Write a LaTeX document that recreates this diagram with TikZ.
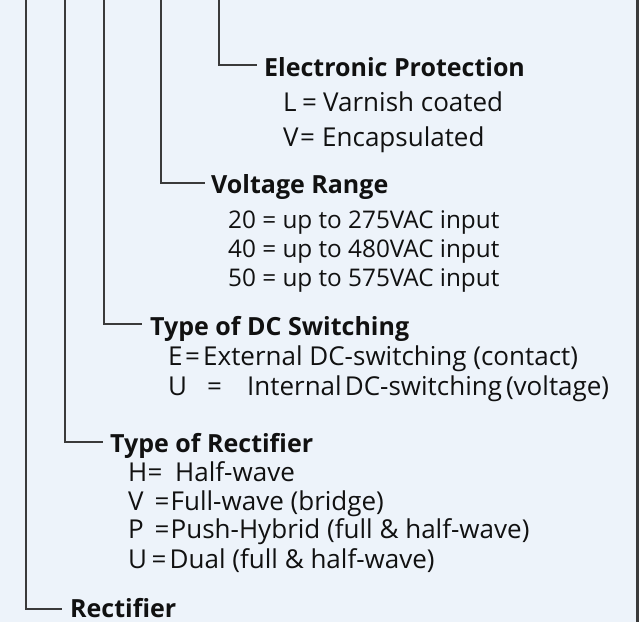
\documentclass[tikz,border=0pt]{standalone}
\usepackage{fontspec}
\setmainfont{Open Sans}
\definecolor{bgblue}{HTML}{EDF3FA}
\definecolor{linegray}{HTML}{3A3A3A}
\definecolor{txt}{HTML}{111111}
\tikzset{
  hdr/.style={anchor=base west, inner sep=0pt, text depth=0pt, text=txt, font=\fontsize{25}{29}\selectfont\bfseries},
  itm/.style={anchor=base west, inner sep=0pt, text=txt, font=\fontsize{26}{30}\selectfont},
  num/.style={itm, font=\fontsize{24.3}{28}\selectfont},
  conn/.style={draw=linegray, line width=1.3pt}
}
\begin{document}
\begin{tikzpicture}[x=1pt,y=-1pt]
\fill[bgblue] (0,0) rectangle (639,622);
\fill[linegray] (636,0) rectangle (639,622);
\useasboundingbox (0,0) rectangle (639,622);
% headers and items
\node[hdr] (ep) at (264,76) {Electronic Protection};
\node[itm] (ep1) at (283,111) {\makebox[19pt][l]{L}\makebox[21pt][l]{=}Varnish coated};
\node[itm] (ep2) at (283,146) {\makebox[17pt][l]{V}\makebox[22pt][l]{=}Encapsulated};
\node[hdr] (vr) at (211,193) {Voltage Range};
\node[num] (vr1) at (228,228) {20 = up to 275VAC input};
\node[num] (vr2) at (228,257) {40 = up to 480VAC input};
\node[num] (vr3) at (228,286) {50 = up to 575VAC input};
\node[hdr] (dc) at (150,335) {Type of DC Switching};
\node[itm] (dc1) at (168,365) {\makebox[17pt][l]{E}\makebox[18pt][l]{=}External DC-switching (contact)};
\node[itm] (dc2) at (168,395) {\makebox[39pt][l]{U}\makebox[40pt][l]{=}Internal\hspace{3pt}DC-switching\hspace{4pt}(voltage)};
\node[hdr] (tr) at (110,452) {Type of Rectifier};
\node[itm] (tr1) at (128,481) {\makebox[19.5pt][l]{H}\makebox[27.5pt][l]{=}Half-wave};
\node[itm] (tr2) at (128,510) {\makebox[26.5pt][l]{V}\makebox[16pt][l]{=}Full-wave (bridge)};
\node[itm] (tr3) at (128,538) {\makebox[26.5pt][l]{P}\makebox[16pt][l]{=}Push-Hybrid (full \& half-wave)};
\node[itm] (tr4) at (128,568) {\makebox[23.5pt][l]{U}\makebox[18pt][l]{=}Dual (full \& half-wave)};
\node[hdr] (rc) at (70,617.5) {Rectifier};
% tops
\coordinate (t1) at (26,0);
\coordinate (t2) at (65,0);
\coordinate (t3) at (104,0);
\coordinate (t4) at (161,0);
\coordinate (t5) at (219,0);
% connectors
\draw[conn] (t5) |- ([xshift=-7pt,yshift=11pt]ep.base west);
\draw[conn] (t4) |- ([xshift=-6pt,yshift=10pt]vr.base west);
\draw[conn] (t3) |- ([xshift=-8pt,yshift=11pt]dc.base west);
\draw[conn] (t2) |- ([xshift=-7pt,yshift=10pt]tr.base west);
\draw[conn] (t1) |- ([xshift=-8pt,yshift=8.5pt]rc.base west);
\end{tikzpicture}
\end{document}
